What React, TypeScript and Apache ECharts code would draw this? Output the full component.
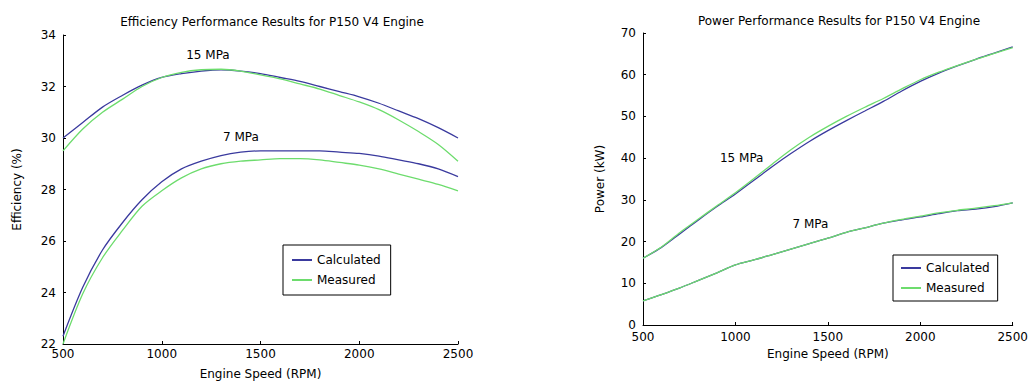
import React, { useEffect, useRef } from "react";
import * as echarts from "echarts";

const rpm = [500, 600, 700, 800, 900, 1000, 1100, 1200, 1300, 1400, 1500, 1600, 1700, 1800, 1900, 2000, 2100, 2200, 2300, 2400, 2500];

const effCalc15 = [30.0, 30.6, 31.2, 31.65, 32.05, 32.35, 32.5, 32.6, 32.65, 32.6, 32.5, 32.35, 32.2, 32.0, 31.8, 31.6, 31.35, 31.05, 30.75, 30.4, 30.0];
const effMeas15 = [29.5, 30.35, 31.0, 31.5, 32.0, 32.35, 32.55, 32.65, 32.67, 32.6, 32.45, 32.3, 32.1, 31.9, 31.65, 31.4, 31.1, 30.7, 30.25, 29.75, 29.1];
const effCalc7 = [22.3, 24.2, 25.65, 26.7, 27.6, 28.3, 28.8, 29.1, 29.32, 29.45, 29.5, 29.5, 29.5, 29.5, 29.45, 29.4, 29.3, 29.15, 29.0, 28.8, 28.5];
const effMeas7 = [22.0, 23.95, 25.35, 26.4, 27.35, 27.95, 28.45, 28.8, 29.0, 29.1, 29.15, 29.2, 29.2, 29.15, 29.05, 28.95, 28.8, 28.6, 28.4, 28.2, 27.95];

const powCalc15 = [16.0, 18.6, 21.9, 25.2, 28.4, 31.4, 34.7, 38.0, 41.1, 44.0, 46.6, 49.0, 51.3, 53.6, 56.1, 58.4, 60.4, 62.1, 63.7, 65.2, 66.7];
const powMeas15 = [16.0, 18.7, 22.2, 25.4, 28.6, 31.7, 35.1, 38.6, 42.0, 45.0, 47.6, 50.0, 52.2, 54.3, 56.6, 58.8, 60.6, 62.2, 63.7, 65.1, 66.5];
const powCalc7 = [5.8, 7.3, 8.9, 10.7, 12.5, 14.4, 15.6, 16.9, 18.2, 19.5, 20.8, 22.2, 23.3, 24.4, 25.2, 25.9, 26.7, 27.4, 27.8, 28.4, 29.3];
const powMeas7 = [5.8, 7.3, 8.9, 10.7, 12.5, 14.4, 15.6, 16.9, 18.2, 19.5, 20.8, 22.2, 23.3, 24.4, 25.3, 26.1, 26.9, 27.5, 28.0, 28.6, 29.3];

const effLabels = [
  { text: "15 MPa", at: [1234, 33.23] },
  { text: "7 MPa", at: [1401, 30.05] },
];
const powLabels = [
  { text: "15 MPa", at: [1034, 40.0] },
  { text: "7 MPa", at: [1406, 24.2] },
];

const CALC = "#3a3a9e";
const MEAS = "#6ddc6d";
const FONT = "DejaVu Sans";

function pairs(xs: number[], ys: number[]) {
  return xs.map((x, i) => [x, ys[i]]);
}

function line(name: string, data: number[][], color: string, idx: number, labels?: { text: string; at: number[] }[]) {
  const s: any = {
    type: "line",
    name,
    xAxisIndex: idx,
    yAxisIndex: idx,
    data,
    showSymbol: false,
    smooth: 0.3,
    lineStyle: { color, width: 1.3 },
    itemStyle: { color },
  };
  if (labels) {
    s.markPoint = {
      symbol: "circle",
      symbolSize: 0,
      silent: true,
      label: {
        show: true,
        position: "inside",
        color: "#000",
        fontFamily: FONT,
        fontSize: 12,
        formatter: (p: any) => p.name,
      },
      data: labels.map((l) => ({ name: l.text, coord: l.at })),
    };
  }
  return s;
}

export default function App() {
  const ref = useRef<HTMLDivElement>(null);
  useEffect(() => {
    document.body.style.margin = "0";
    const chart = echarts.init(ref.current!, undefined, { renderer: "svg" });
    const axisCommon = {
      axisLine: { show: true, onZero: false, lineStyle: { color: "#000", width: 1 } },
      axisTick: { show: true, inside: true, length: 3, lineStyle: { color: "#000" } },
      splitLine: { show: false },
      axisLabel: { color: "#000", fontFamily: FONT, fontSize: 12, formatter: (v: number) => String(v) },
      nameTextStyle: { color: "#000", fontFamily: FONT, fontSize: 12 },
      nameLocation: "middle",
    };
    const legendCommon = {
      orient: "vertical",
      data: ["Calculated", "Measured"],
      icon: "rect",
      itemWidth: 20,
      itemHeight: 2,
      itemGap: 8,
      borderColor: "#000",
      borderWidth: 1,
      backgroundColor: "#fff",
      textStyle: { color: "#000", fontFamily: FONT, fontSize: 12 },
      selectedMode: false,
    };
    chart.setOption({
      animation: false,
      backgroundColor: "#fff",
      title: [
        { text: "Efficiency Performance Results for P150 V4 Engine", left: 267, top: 11, textAlign: "center", textStyle: { fontFamily: FONT, fontSize: 12, fontWeight: "normal", color: "#000" } },
        { text: "Power Performance Results for P150 V4 Engine", left: 834, top: 10, textAlign: "center", textStyle: { fontFamily: FONT, fontSize: 12, fontWeight: "normal", color: "#000" } },
      ],
      grid: [
        { left: 63, top: 35, width: 395, height: 310 },
        { left: 643, top: 33, width: 371, height: 292 },
      ],
      legend: [
        { ...legendCommon, left: 283, top: 245, padding: [9, 10, 9, 9] },
        { ...legendCommon, left: 893, top: 255, padding: [7, 8, 7, 8] },
      ],
      xAxis: [
        { ...axisCommon, type: "value", gridIndex: 0, min: 500, max: 2500, interval: 500, name: "Engine Speed (RPM)", nameGap: 24, axisLabel: { ...axisCommon.axisLabel, margin: 4 } },
        { ...axisCommon, type: "value", gridIndex: 1, min: 500, max: 2500, interval: 500, name: "Engine Speed (RPM)", nameGap: 23, axisLabel: { ...axisCommon.axisLabel, margin: 6 } },
      ],
      yAxis: [
        { ...axisCommon, type: "value", gridIndex: 0, min: 22, max: 34, interval: 2, name: "Efficiency (%)", nameGap: 40, axisLabel: { ...axisCommon.axisLabel, margin: 7 } },
        { ...axisCommon, type: "value", gridIndex: 1, min: 0, max: 70, interval: 10, name: "Power (kW)", nameGap: 37, axisLabel: { ...axisCommon.axisLabel, margin: 7 } },
      ],
      series: [
        line("Calculated", pairs(rpm, effCalc15), CALC, 0, effLabels),
        line("Calculated", pairs(rpm, effCalc7), CALC, 0),
        line("Measured", pairs(rpm, effMeas15), MEAS, 0),
        line("Measured", pairs(rpm, effMeas7), MEAS, 0),
        line("Calculated", pairs(rpm, powCalc15), CALC, 1, powLabels),
        line("Calculated", pairs(rpm, powCalc7), CALC, 1),
        line("Measured", pairs(rpm, powMeas15), MEAS, 1),
        line("Measured", pairs(rpm, powMeas7), MEAS, 1),
      ],
    });
    return () => chart.dispose();
  }, []);
  return <div ref={ref} style={{ width: 1031, height: 385, position: "absolute", left: 0, top: 0 }} />;
}
